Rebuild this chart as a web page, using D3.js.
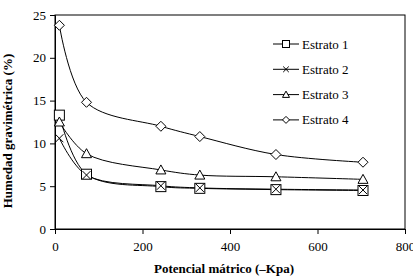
<!DOCTYPE html>
<html>
<head>
<meta charset="utf-8">
<script src="https://cdn.jsdelivr.net/npm/d3@7"></script>
<style>
body { margin: 0; background: #fff; }
</style>
</head>
<body>
<div id="chart"></div>
<script>
// potencial matrico (-Kpa)
const potencial = [10, 72, 242, 331, 505, 704]

const estrato1 = [13.3, 6.4, 4.95, 4.75, 4.6, 4.5]
const estrato2 = [10.6, 6.3, 5.05, 4.8, 4.65, 4.55]
const estrato3 = [12.5, 8.8, 6.9, 6.3, 6.1, 5.8]
const estrato4 = [23.8, 14.8, 12.0, 10.8, 8.7, 7.8]

const seriesNames = ["Estrato 1", "Estrato 2", "Estrato 3", "Estrato 4"]
const xTicks = [0, 200, 400, 600, 800]
const yTicks = [0, 5, 10, 15, 20, 25]

const W = 413, H = 279
const margin = {top: 15, right: 8, bottom: 50, left: 55}
const serif = "'Liberation Serif', 'Times New Roman', serif"

const svg = d3.select("#chart").append("svg")
    .attr("width", W)
    .attr("height", H)
    .attr("font-family", serif)

const x = d3.scaleLinear().domain([0, 800]).range([margin.left, W - margin.right])
const y = d3.scaleLinear().domain([0, 25]).range([H - margin.bottom, margin.top])

// frame
svg.append("rect")
    .attr("x", x(0)).attr("y", y(25))
    .attr("width", x(800) - x(0)).attr("height", y(0) - y(25))
    .attr("fill", "none").attr("stroke", "#000").attr("stroke-width", 1)

const xAxis = svg.append("g")
    .attr("transform", "translate(0," + y(0) + ")")
    .call(d3.axisBottom(x).tickValues(xTicks).tickSize(5).tickPadding(8))
const yAxis = svg.append("g")
    .attr("transform", "translate(" + x(0) + ",0)")
    .call(d3.axisLeft(y).tickValues(yTicks).tickSize(5).tickPadding(4))

;[xAxis, yAxis].forEach(a => {
    a.attr("font-family", serif).attr("font-size", 13)
    a.select(".domain").attr("stroke", "#000")
    a.selectAll("text").attr("fill", "#000")
})

// axis titles
svg.append("text")
    .attr("x", 224).attr("y", 273)
    .attr("text-anchor", "middle")
    .attr("font-size", 13).attr("font-weight", "bold")
    .text("Potencial mátrico (–Kpa)")

svg.append("text")
    .attr("transform", "translate(12,131) rotate(-90)")
    .attr("text-anchor", "middle")
    .attr("font-size", 13).attr("font-weight", "bold")
    .text("Humedad gravimétrica (%)")

const allSeries = [estrato1, estrato2, estrato3, estrato4]

const line = d3.line()
    .x(d => x(d[0]))
    .y(d => y(d[1]))
    .curve(d3.curveCatmullRom.alpha(0.5))

// marker drawing
function marker(g, type, cx, cy, s) {
    if (type === 0) {
        g.append("rect").attr("x", cx - s / 2).attr("y", cy - s / 2)
            .attr("width", s).attr("height", s)
            .attr("fill", "#fff").attr("stroke", "#000")
    } else if (type === 1) {
        const h = s * 0.4
        g.append("path")
            .attr("d", `M${cx - h},${cy - h}L${cx + h},${cy + h}M${cx - h},${cy + h}L${cx + h},${cy - h}`)
            .attr("stroke", "#000").attr("fill", "none")
    } else if (type === 2) {
        const h = s / 2
        g.append("path")
            .attr("d", `M${cx},${cy - h}L${cx + h},${cy + h * 0.8}L${cx - h},${cy + h * 0.8}Z`)
            .attr("fill", "#fff").attr("stroke", "#000")
    } else {
        const h = s / 2
        g.append("path")
            .attr("d", `M${cx},${cy - h}L${cx + h},${cy}L${cx},${cy + h}L${cx - h},${cy}Z`)
            .attr("fill", "#fff").attr("stroke", "#000")
    }
}

allSeries.forEach((vals, i) => {
    const pts = potencial.map((p, j) => [p, vals[j]])
    svg.append("path")
        .attr("d", line(pts))
        .attr("fill", "none").attr("stroke", "#000").attr("stroke-width", 1)
})

allSeries.forEach((vals, i) => {
    const g = svg.append("g")
    potencial.forEach((p, j) => marker(g, i, x(p), y(vals[j]), 10))
})

// legend
const legend = svg.append("g")
seriesNames.forEach((name, i) => {
    const ly = 44 + i * 25.3
    legend.append("line")
        .attr("x1", 273).attr("x2", 299).attr("y1", ly).attr("y2", ly)
        .attr("stroke", "#000")
    marker(legend, i, 286, ly, 7)
    legend.append("text")
        .attr("x", 302).attr("y", ly + 4.5)
        .attr("font-size", 13)
        .text(name)
})
</script>
</body>
</html>
